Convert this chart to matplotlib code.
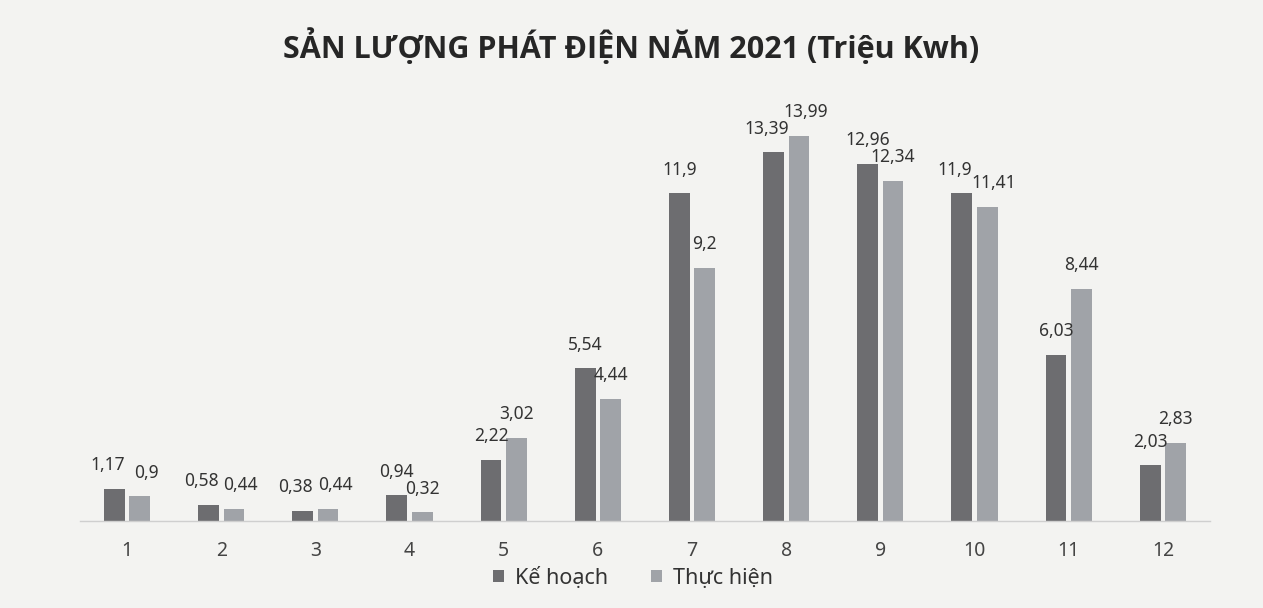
import numpy as np
import matplotlib
matplotlib.use("Agg")
import matplotlib.pyplot as plt

# data (million kWh)
months = ["1", "2", "3", "4", "5", "6", "7", "8", "9", "10", "11", "12"]
ke_hoach = [1.17, 0.58, 0.38, 0.94, 2.22, 5.54, 11.9, 13.39, 12.96, 11.9, 6.03, 2.03]
thuc_hien = [0.9, 0.44, 0.44, 0.32, 3.02, 4.44, 9.2, 13.99, 12.34, 11.41, 8.44, 2.83]
series_names = ["Kế hoạch", "Thực hiện"]
title = "SẢN LƯỢNG PHÁT ĐIỆN NĂM 2021 (Triệu Kwh)"

plt.rcParams["font.family"] = ["Noto Sans", "DejaVu Sans"]

bg = "#f3f3f1"
c_kh = "#6d6d70"
c_th = "#a0a3a8"
txt = "#333333"

fig = plt.figure(figsize=(12.63, 6.08), dpi=100, facecolor=bg)
ax = fig.add_axes([0.0633, 0.143, 0.8947, 0.725], facecolor=bg)

x = np.arange(1, len(months) + 1)
w = 0.22
off = 0.135
b1 = ax.bar(x - off, ke_hoach, w, color=c_kh, label=series_names[0])
b2 = ax.bar(x + off, thuc_hien, w, color=c_th, label=series_names[1])

# data labels above each bar; spread the pair a little when they sit level
for i in range(len(months)):
    close = abs(ke_hoach[i] - thuc_hien[i]) < 0.6
    for bars, vals, sgn in ((b1, ke_hoach, -1), (b2, thuc_hien, 1)):
        r = bars[i]
        s = f"{vals[i]:g}".replace(".", ",")
        dx = 5 * sgn if close else 0
        ax.annotate(s, (r.get_x() + r.get_width() / 2, r.get_height()),
                    xytext=(dx, 17), textcoords="offset points",
                    ha="center", va="center", fontsize=12.5, color=txt)

ax.set_xlim(0.5, 12.5)
ax.set_ylim(0, 16)
ax.set_xticks(x)
ax.set_xticklabels(months, fontsize=14, color="#444444")
ax.tick_params(axis="x", length=0, pad=14)
ax.set_yticks([])
for sp in ["top", "right", "left"]:
    ax.spines[sp].set_visible(False)
ax.spines["bottom"].set_color("#cfcfcf")
ax.spines["bottom"].set_linewidth(1)

fig.text(0.5, 1 - 47 / 608, title, ha="center", va="center",
         fontsize=22, fontweight="bold", color="#262626", family="Open Sans")

fig.legend(handles=[b1, b2], labels=series_names, loc="center",
           bbox_to_anchor=(633 / 1263, 1 - 578 / 608), ncol=2, frameon=False,
           fontsize=15.5, handlelength=0.5, handleheight=0.5, handletextpad=0.5,
           columnspacing=2.0, labelcolor="#333333")

fig.savefig("out.png", dpi=100, facecolor=bg)
